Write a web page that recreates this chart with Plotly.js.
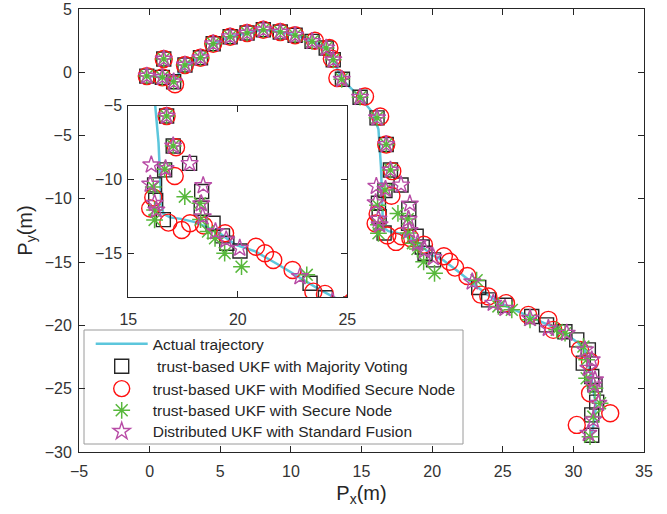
<!DOCTYPE html>
<html><head><meta charset="utf-8">
<script src="https://cdn.plot.ly/plotly-3.0.1.min.js"></script>
<style>html,body{margin:0;padding:0;background:#fff}#chart{width:667px;height:514px}</style>
</head><body><div id="chart"></div>
<script>
// ---- data ----
const trajX = [-0.2,0.9,1.7,2.5,3.6,4.5,5.7,6.9,8.05,9.25,10.3,11.5,12.5,13.0,13.6,14.9,15.8,16.2,16.3,16.38,16.42,16.45,16.5,16.6,16.9,17.4,18.0,18.6,19.2,19.9,20.8,21.8,22.8,23.7,24.4,25.2,26.3,27.6,28.7,29.6,30.3,30.8,31.05,31.2,31.35,31.5,31.6,31.5,31.3];
const trajY = [-0.3,-0.4,-0.7,0.57,1.15,2.26,2.81,3.1,3.36,3.18,2.93,2.44,1.92,0.99,-0.55,-1.97,-3.2,-4.5,-6.0,-7.5,-8.8,-10.2,-11.5,-12.3,-12.55,-12.65,-12.85,-13.2,-13.65,-14.4,-14.85,-15.7,-16.6,-17.4,-17.95,-18.45,-19.0,-19.65,-20.2,-20.8,-21.35,-21.95,-22.8,-23.7,-24.6,-25.5,-26.3,-27.4,-28.6];

// trust-based UKF with Majority Voting (squares)
const mvX = [-0.2,1.0,0.9,1.7,2.5,3.6,4.5,5.7,6.9,8.05,9.25,10.3,11.5,12.5,13.0,13.65,14.9,16.1,16.75,17.05,17.8,16.66,16.2,18.35,16.25,18.33,16.6,18.87,19.3,19.5,20.1,23.3,24.0,25.16,27.05,28.1,29.4,30.24,31.06,30.7,31.3,31.53,31.65,31.3,31.3];
const mvY = [-0.3,1.05,-0.4,-0.75,0.57,1.15,2.26,2.81,3.1,3.36,3.18,2.93,2.44,1.92,0.99,-0.55,-1.97,-3.6,-5.7,-7.72,-8.9,-9.34,-10.35,-10.8,-11.4,-11.93,-12.7,-12.95,-13.8,-14.3,-14.82,-17.0,-17.98,-18.4,-19.3,-19.96,-20.5,-21.14,-21.93,-22.98,-24.04,-24.7,-26.06,-27.07,-28.68];

// trust-based UKF with Modified Secure Node (circles)
const msnX = [-0.2,1.0,0.9,1.8,2.5,3.6,4.5,5.7,6.9,8.05,9.25,10.3,11.7,12.73,12.9,13.29,15.25,16.32,16.75,17.18,17.12,16.14,16.0,16.83,17.44,17.82,18.45,19.42,20.83,21.24,21.62,22.5,23.45,23.98,25.23,26.81,28.23,28.58,30.47,31.18,31.18,32.61,30.24];
const msnY = [-0.3,1.05,-0.4,-0.95,0.57,1.15,2.26,2.81,3.1,3.36,3.18,2.93,2.49,1.92,1.07,-0.45,-1.91,-3.49,-5.7,-7.81,-9.75,-11.2,-11.95,-12.9,-13.4,-12.95,-13.1,-13.62,-14.53,-14.97,-15.43,-16.1,-17.57,-17.72,-18.24,-19.17,-19.56,-20.35,-21.93,-22.86,-25.36,-26.94,-27.86];

// trust-based UKF with Secure Node (asterisks)
const snX = [-0.2,1.0,0.9,1.7,2.5,3.6,4.5,5.7,6.9,8.05,9.25,10.3,11.5,12.5,13.0,13.6,14.9,16.1,16.75,17.05,16.66,16.14,17.58,16.2,16.2,18.27,18.3,18.64,18.96,19.4,20.17,23.15,24.69,25.64,26.93,28.82,29.41,30.71,30.94,30.94,31.53,31.89,31.41,31.18];
const snY = [-0.3,1.05,-0.4,-0.75,0.57,1.15,2.26,2.81,3.1,3.36,3.18,2.93,2.44,1.92,0.99,-0.55,-1.97,-3.6,-5.7,-7.72,-9.3,-10.5,-11.15,-12.05,-12.72,-11.6,-12.7,-13.5,-13.96,-14.97,-15.88,-16.43,-18.5,-18.77,-19.56,-20.35,-20.61,-21.67,-22.72,-24.17,-24.96,-26.15,-27.2,-28.79];

// Distributed UKF with Standard Fusion (stars)
const sfX = [-0.2,1.0,0.9,1.7,2.5,3.6,4.5,5.7,6.9,8.05,9.25,10.3,11.5,12.5,13.0,13.6,14.9,16.1,16.75,17.05,17.8,16.05,16.7,16.0,18.42,16.2,16.28,18.33,18.4,18.98,19.47,20.09,22.84,24.33,25.16,26.93,28.23,29.53,30.82,31.3,31.06,31.53,31.41,31.77,31.41,31.06];
const sfY = [-0.3,1.05,-0.4,-0.75,0.57,1.15,2.26,2.81,3.1,3.36,3.18,2.93,2.44,1.92,0.99,-0.55,-1.97,-3.6,-5.7,-7.72,-8.9,-9.0,-9.25,-10.3,-10.4,-11.6,-12.05,-11.62,-12.5,-13.51,-14.06,-14.63,-16.55,-18.24,-18.64,-19.43,-20.22,-20.61,-21.93,-22.72,-23.38,-24.3,-24.7,-26.15,-27.46,-28.52];

const seriesNames = ['Actual trajectory','\u00a0trust-based UKF with Majority Voting','trust-based UKF with Modified Secure Node','trust-based UKF with Secure Node','Distributed UKF with Standard Fusion'];
const xTicks = [-5,0,5,10,15,20,25,30,35];
const yTicks = [-30,-25,-20,-15,-10,-5,0,5];
const insetXTicks = [15,20,25];
const insetYTicks = [-15,-10,-5];

// ---- layout geometry (pixels) ----
const W = 667, H = 514;
const M = {l:79, r:23, t:9, b:62};
const PW = W - M.l - M.r, PH = H - M.t - M.b;
const px2x = p => (p - M.l) / PW;
const py2y = p => (H - M.b - p) / PH;

const FONT = 'Liberation Sans, Arial, Helvetica, sans-serif';
const INK = '#262626';
const colors = {line:'#5cc6dc', sq:'#262626', ci:'#ff1010', as:'#58b83c', st:'#b84ca6'};

const styles = [
  {mode:'lines', line:{color:colors.line, width:2.5}},
  {mode:'markers', marker:{symbol:'square-open', size:14, color:colors.sq, line:{width:1.4, color:colors.sq}}},
  {mode:'markers', marker:{symbol:'circle-open', size:17, color:colors.ci, line:{width:1.4, color:colors.ci}}},
  {mode:'markers', marker:{symbol:'asterisk-open', size:14, color:colors.as, line:{width:1.5, color:colors.as}}},
  {mode:'markers', marker:{symbol:'star-open', size:13, color:colors.st, line:{width:1.4, color:colors.st}}}
];
const xs = [trajX, mvX, msnX, snX, sfX];
const ys = [trajY, mvY, msnY, snY, sfY];
const legendIds = ['legend','legend2','legend3','legend4','legend5'];

const traces = [];
for (let i = 0; i < 5; i++) {
  traces.push(Object.assign({x:xs[i], y:ys[i], type:'scatter', name:seriesNames[i], xaxis:'x', yaxis:'y', legend:legendIds[i], hoverinfo:'skip'}, styles[i]));
}
for (let i = 0; i < 5; i++) {
  traces.push(Object.assign({x:xs[i], y:ys[i], type:'scatter', name:seriesNames[i], xaxis:'x2', yaxis:'y2', showlegend:false, hoverinfo:'skip'}, styles[i]));
}

const axisBase = {showline:true, linecolor:INK, linewidth:1, mirror:'ticks', ticks:'inside', ticklen:6, tickcolor:INK, tickwidth:1, showgrid:false, zeroline:false, tickfont:{family:FONT, size:16, color:'#333'}};

const rowY = [344.3, 366.7, 389, 410.7, 431.7];
const legendLeft = 90.7;
const layout = {
  width: W, height: H, margin: M,
  paper_bgcolor:'#fff', plot_bgcolor:'#fff',
  font:{family:FONT, color:INK},
  xaxis: Object.assign({}, axisBase, {range:[-5,35], tickvals:xTicks, domain:[0,1], anchor:'y', ticklabelstandoff:5,
    title:{text:'P<sub>x</sub>(m)', font:{family:FONT, size:20, color:INK}, standoff:6}}),
  yaxis: Object.assign({}, axisBase, {range:[-30,5], tickvals:yTicks, domain:[0,1], anchor:'x', ticklabelstandoff:3,
    title:{text:'P<sub>y</sub>(m)', font:{family:FONT, size:20, color:INK}, standoff:6}}),
  xaxis2: Object.assign({}, axisBase, {range:[15,25], tickvals:insetXTicks, domain:[px2x(128.3), px2x(347.3)], anchor:'y2', ticklabelstandoff:8}),
  yaxis2: Object.assign({}, axisBase, {range:[-17.93,-5], tickvals:insetYTicks, domain:[py2y(297), py2y(105.7)], anchor:'x2', ticklabelstandoff:2}),
  shapes: [{type:'rect', xref:'paper', yref:'paper', x0:px2x(84), x1:px2x(463), y0:py2y(444), y1:py2y(330),
            line:{color:'#9a9a9a', width:1}, fillcolor:'#fff', layer:'below'}],
  showlegend: true
};
legendIds.forEach((id, i) => {
  layout[id] = {x:px2x(legendLeft), y:py2y(rowY[i]), xanchor:'left', yanchor:'middle',
    bgcolor:'rgba(0,0,0,0)', borderwidth:0, itemwidth:52,
    font:{family:FONT, size:15.5, color:INK}, itemclick:false, itemdoubleclick:false};
});

Plotly.newPlot('chart', traces, layout, {displayModeBar:false, staticPlot:true});
</script></body></html>
